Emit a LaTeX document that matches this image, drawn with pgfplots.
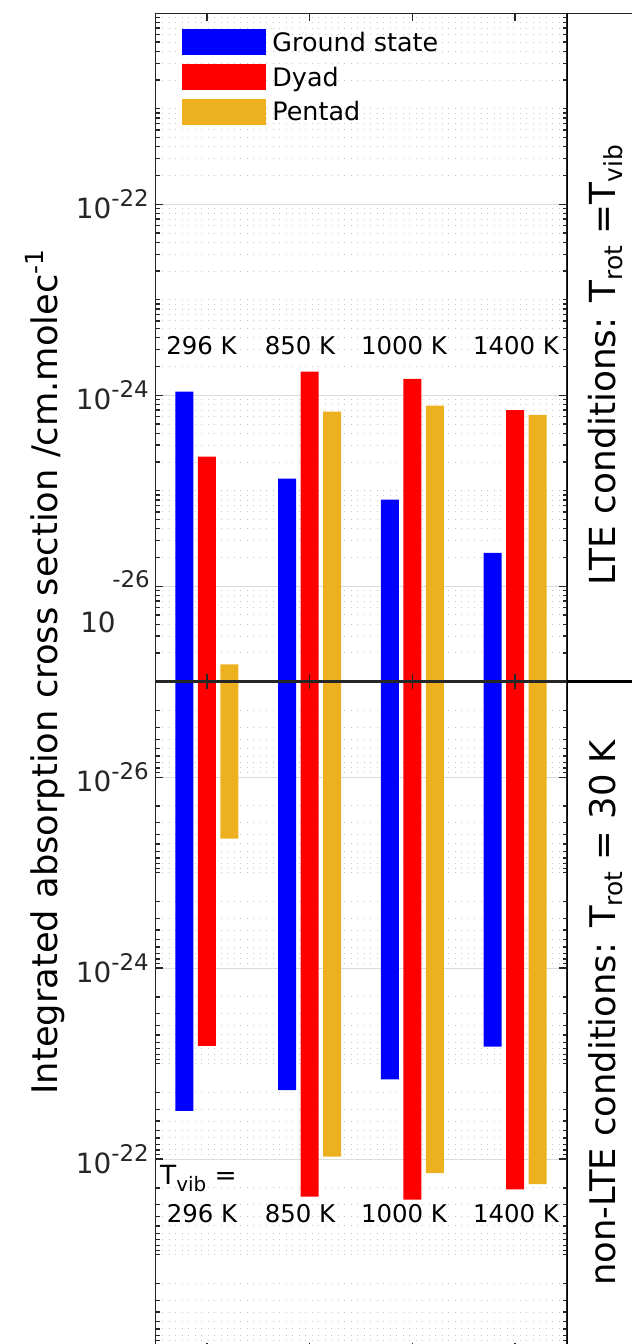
\documentclass[border=0pt]{standalone}
\usepackage{fontspec}
\setmainfont{DejaVu Sans}
\usepackage{pgfplots}
\pgfplotsset{compat=1.18}
\definecolor{cblue}{RGB}{0,0,255}
\definecolor{cred}{RGB}{255,0,0}
\definecolor{cyel}{RGB}{237,177,32}
\definecolor{axc}{RGB}{38,38,38}
\pgfplotsset{
 layers/ticksontop/.define layer set={axis background,axis grid,pre main,main,axis ticks,axis lines,axis tick labels,axis descriptions,axis foreground}{
  grid style={/pgfplots/on layer=axis grid},
  tick style={/pgfplots/on layer=axis ticks},
  axis line style={/pgfplots/on layer=axis lines},
  label style={/pgfplots/on layer=axis descriptions},
  legend style={/pgfplots/on layer=axis descriptions},
  title style={/pgfplots/on layer=axis descriptions},
  ticklabel style={/pgfplots/on layer=axis tick labels},
  axis background@ style={/pgfplots/on layer=axis background},
 },
}
\newcommand\tl[1]{\fontsize{28}{28}\selectfont 10\raisebox{12.3bp}{\fontsize{23}{23}\selectfont #1}}
\newcommand\sub[3]{\raisebox{-#3bp}{\fontsize{#2}{#2}\selectfont #1}}
\begin{document}
\begin{tikzpicture}[x=1bp,y=1bp]
\begin{axis}[at={(155.5bp,662.3bp)}, anchor=south west, set layers=ticksontop,
  scale only axis, width=411bp, height=668.4bp,
  xmin=0.5, xmax=4.5, ymode=log, ymin=1e-27, ymax=1e-20,
  unbounded coords=jump,
  xtick={1,2,3,4}, xticklabels={},
  ytick={1e-26,1e-24,1e-22},
  minor ytick={2e-27,3e-27,4e-27,5e-27,6e-27,7e-27,8e-27,9e-27,
    2e-26,3e-26,4e-26,5e-26,6e-26,7e-26,8e-26,9e-26,
    1e-25,2e-25,3e-25,4e-25,5e-25,6e-25,7e-25,8e-25,9e-25,
    2e-24,3e-24,4e-24,5e-24,6e-24,7e-24,8e-24,9e-24,
    1e-23,2e-23,3e-23,4e-23,5e-23,6e-23,7e-23,8e-23,9e-23,
    2e-22,3e-22,4e-22,5e-22,6e-22,7e-22,8e-22,9e-22,
    1e-21,2e-21,3e-21,4e-21,5e-21,6e-21,7e-21,8e-21,9e-21},
  ymajorgrids, yminorgrids,
  major grid style={draw=gray!28, line width=0.8bp},
  minor grid style={draw=gray!45, line width=0.9bp, dash pattern=on 0.9bp off 5.6bp},
  axis line style={draw=axc, line width=1.3bp},
  tick style={draw=axc, line width=1.3bp},
  major tick length=7.5bp, minor tick length=4bp,
  tick align=inside,
  yticklabel style={inner sep=0pt, xshift=-6.5bp, text=axc},
  yticklabels={,\tl{-24},\tl{-22}},
  legend style={at={(axis description cs:0,1)}, anchor=north west, draw=none, fill=none,
    xshift=26.2bp, yshift=-15.7bp, inner sep=0pt, row sep=5.95bp,
    font=\fontsize{25.5}{25.5}\selectfont, text=black,
    nodes={inner sep=0pt, text height=19.5bp, text depth=6.5bp},
    /tikz/every odd column/.append style={column sep=6.5bp}},
  legend cell align=left,
  legend image code/.code={\fill[#1] (0bp,-10.2bp) rectangle (84bp,15.8bp);},
]
% LTE: Ground state
\addplot[fill=cblue, draw=none] coordinates {
 (0.6925,1e-27) (0.6925,1.09e-24) (0.8675,1.09e-24) (0.8675,1e-27) (nan,nan)
 (1.6925,1e-27) (1.6925,1.34e-25) (1.8675,1.34e-25) (1.8675,1e-27) (nan,nan)
 (2.6925,1e-27) (2.6925,8.07e-26) (2.8675,8.07e-26) (2.8675,1e-27) (nan,nan)
 (3.6925,1e-27) (3.6925,2.23e-26) (3.8675,2.23e-26) (3.8675,1e-27)};
\addlegendentry{Ground state}
% LTE: Dyad
\addplot[fill=cred, draw=none] coordinates {
 (0.9125,1e-27) (0.9125,2.28e-25) (1.0875,2.28e-25) (1.0875,1e-27) (nan,nan)
 (1.9125,1e-27) (1.9125,1.77e-24) (2.0875,1.77e-24) (2.0875,1e-27) (nan,nan)
 (2.9125,1e-27) (2.9125,1.48e-24) (3.0875,1.48e-24) (3.0875,1e-27) (nan,nan)
 (3.9125,1e-27) (3.9125,6.97e-25) (4.0875,6.97e-25) (4.0875,1e-27)};
\addlegendentry{Dyad}
% LTE: Pentad
\addplot[fill=cyel, draw=none] coordinates {
 (1.1325,1e-27) (1.1325,1.52e-27) (1.3075,1.52e-27) (1.3075,1e-27) (nan,nan)
 (2.1325,1e-27) (2.1325,6.74e-25) (2.3075,6.74e-25) (2.3075,1e-27) (nan,nan)
 (3.1325,1e-27) (3.1325,7.78e-25) (3.3075,7.78e-25) (3.3075,1e-27) (nan,nan)
 (4.1325,1e-27) (4.1325,6.22e-25) (4.3075,6.22e-25) (4.3075,1e-27)};
\addlegendentry{Pentad}
\end{axis}
\begin{axis}[at={(155.5bp,662.3bp)}, anchor=north west, y dir=reverse, set layers=ticksontop,
  scale only axis, width=411bp, height=668.4bp,
  xmin=0.5, xmax=4.5, ymode=log, ymin=1e-27, ymax=1e-20,
  unbounded coords=jump,
  xtick={1,2,3,4}, xticklabels={},
  ytick={1e-26,1e-24,1e-22},
  minor ytick={2e-27,3e-27,4e-27,5e-27,6e-27,7e-27,8e-27,9e-27,
    2e-26,3e-26,4e-26,5e-26,6e-26,7e-26,8e-26,9e-26,
    1e-25,2e-25,3e-25,4e-25,5e-25,6e-25,7e-25,8e-25,9e-25,
    2e-24,3e-24,4e-24,5e-24,6e-24,7e-24,8e-24,9e-24,
    1e-23,2e-23,3e-23,4e-23,5e-23,6e-23,7e-23,8e-23,9e-23,
    2e-22,3e-22,4e-22,5e-22,6e-22,7e-22,8e-22,9e-22,
    1e-21,2e-21,3e-21,4e-21,5e-21,6e-21,7e-21,8e-21,9e-21},
  ymajorgrids, yminorgrids,
  major grid style={draw=gray!28, line width=0.8bp},
  minor grid style={draw=gray!45, line width=0.9bp, dash pattern=on 0.9bp off 5.6bp},
  axis line style={draw=axc, line width=1.3bp},
  tick style={draw=axc, line width=1.3bp},
  major tick length=7.5bp, minor tick length=4bp,
  tick align=inside,
  yticklabel style={inner sep=0pt, xshift=-6.5bp, text=axc},
  yticklabels={\tl{-26},\tl{-24},\tl{-22}},
]
% non-LTE: Ground state
\addplot[fill=cblue, draw=none] coordinates {
 (0.6925,1e-27) (0.6925,3.13e-23) (0.8675,3.13e-23) (0.8675,1e-27) (nan,nan)
 (1.6925,1e-27) (1.6925,1.89e-23) (1.8675,1.89e-23) (1.8675,1e-27) (nan,nan)
 (2.6925,1e-27) (2.6925,1.46e-23) (2.8675,1.46e-23) (2.8675,1e-27) (nan,nan)
 (3.6925,1e-27) (3.6925,6.64e-24) (3.8675,6.64e-24) (3.8675,1e-27)};
% non-LTE: Dyad
\addplot[fill=cred, draw=none] coordinates {
 (0.9125,1e-27) (0.9125,6.52e-24) (1.0875,6.52e-24) (1.0875,1e-27) (nan,nan)
 (1.9125,1e-27) (1.9125,2.47e-22) (2.0875,2.47e-22) (2.0875,1e-27) (nan,nan)
 (2.9125,1e-27) (2.9125,2.65e-22) (3.0875,2.65e-22) (3.0875,1e-27) (nan,nan)
 (3.9125,1e-27) (3.9125,2.08e-22) (4.0875,2.08e-22) (4.0875,1e-27)};
% non-LTE: Pentad
\addplot[fill=cyel, draw=none] coordinates {
 (1.1325,1e-27) (1.1325,4.39e-26) (1.3075,4.39e-26) (1.3075,1e-27) (nan,nan)
 (2.1325,1e-27) (2.1325,9.4e-23) (2.3075,9.4e-23) (2.3075,1e-27) (nan,nan)
 (3.1325,1e-27) (3.1325,1.40e-22) (3.3075,1.40e-22) (3.3075,1e-27) (nan,nan)
 (4.1325,1e-27) (4.1325,1.83e-22) (4.3075,1.83e-22) (4.3075,1e-27)};
\end{axis}
% middle and right box lines
\draw[line width=2.5bp, axc] (155.5,662.3) -- (567,662.3);
\draw[line width=3.5bp, black] (567,662.3) -- (640,662.3);
\draw[line width=1.3bp, axc] (567,1330.7) -- (640,1330.7);
\draw[line width=1.6bp, black] (567.5,-10) -- (567.5,1330.7);
% split 10^-26 label of the upper panel
\node[anchor=base, text=axc, inner sep=0pt] at (131,756) {\fontsize{23}{23}\selectfont -26};
\node[anchor=base, text=axc, inner sep=0pt] at (98,711) {\fontsize{28}{28}\selectfont 10};
% temperature labels
\begin{scope}[every node/.style={anchor=base, inner sep=0pt, font=\fontsize{24.5}{24.5}\selectfont}]
\node at (201.6,989) {296 K};
\node at (300,989) {850 K};
\node at (404,989) {1000 K};
\node at (516,989) {1400 K};
\node at (202,121) {296 K};
\node at (300,121) {850 K};
\node at (404,121) {1000 K};
\node at (516,121) {1400 K};
\node[anchor=base west, font=\fontsize{26.5}{26.5}\selectfont] at (160,159) {T\sub{vib}{20}{6.5} =};
\end{scope}
% axis label
\node[rotate=90, inner sep=0pt, font=\fontsize{35.4}{35.4}\selectfont] at (45,672) {Integrated absorption cross section /cm.molec\raisebox{14bp}{\fontsize{25}{25}\selectfont -1}};
% side labels
\node[rotate=90, inner sep=0pt, font=\fontsize{36}{36}\selectfont] at (606,979) {LTE conditions: T\sub{rot}{25}{7} =T\sub{vib}{25}{7}};
\node[rotate=90, inner sep=0pt, font=\fontsize{35.5}{35.5}\selectfont] at (606,331) {non-LTE conditions: T\sub{rot}{25}{7} = 30 K};
\pgfresetboundingbox
\useasboundingbox (0,0) rectangle (632,1344);
\end{tikzpicture}
\end{document}
